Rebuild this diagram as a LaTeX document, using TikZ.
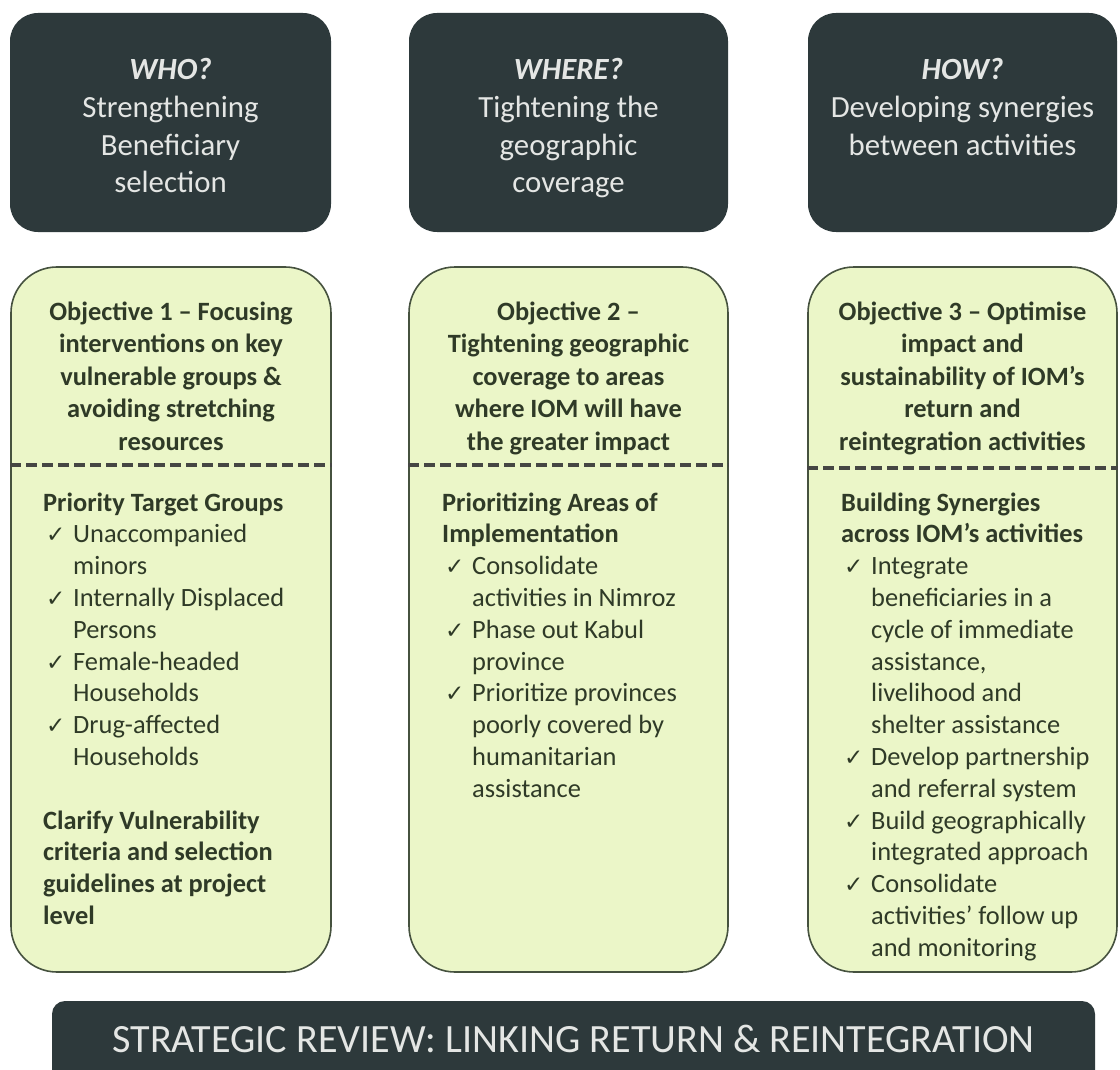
\documentclass[tikz,border=0pt]{standalone}
\usepackage{fontspec}
\setmainfont{Carlito}
\newfontfamily\checkfont{DejaVu Sans}
\definecolor{darkc}{HTML}{2D393B}
\definecolor{greenc}{HTML}{EBF6C8}
\definecolor{borderc}{HTML}{46523F}
\definecolor{dashc}{HTML}{454643}
\definecolor{textc}{HTML}{2F3A27}
\definecolor{lightc}{HTML}{E4E6E4}
\newcommand{\mychk}{\makebox[30pt][l]{\hspace*{3pt}{\checkfont\fontsize{23}{23}\selectfont ✓}}}
\newcommand{\myind}{\makebox[30pt]{}}
\tikzset{
  darkbox/.style={fill=darkc, rounded corners=28pt, inner sep=0pt},
  greenbox/.style={fill=greenc, draw=borderc, line width=1.6pt, rounded corners=46pt, inner sep=0pt},
  sepline/.style={draw=dashc, line width=3.2pt, dash pattern=on 11pt off 5pt},
  toptext/.style={anchor=base, inner sep=0pt, text=lightc, font=\fontsize{30.8}{37.6}\selectfont},
  titletext/.style={anchor=base, inner sep=0pt, text=textc, font=\bfseries\fontsize{26.4}{32.5}\selectfont},
  bodytext/.style={anchor=base west, inner sep=0pt, text=textc, font=\fontsize{26.4}{31.8}\selectfont},
  bartext/.style={anchor=base, inner sep=0pt, text=lightc, font=\fontsize{40.1}{46}\selectfont},
}
\begin{document}
\begin{tikzpicture}[x=1pt,y=-1pt]
\clip (0,0) rectangle (1120,1070);
\fill[white] (0,0) rectangle (1120,1070);

% top dark boxes
\node[darkbox, minimum width=321pt, minimum height=219pt] (t1) at (170.5,122.5) {};
\node[darkbox, minimum width=319pt, minimum height=219pt] (t2) at (568.5,122.5) {};
\node[darkbox, minimum width=309pt, minimum height=219pt] (t3) at (962.5,122.5) {};

\node[toptext] (t1txt) at (170.5,80) {\parbox[t]{300pt}{\centering\textbf{\textit{WHO?}}\\Strengthening\\Beneficiary\\selection}};
\node[toptext] (t2txt) at (568.5,80) {\parbox[t]{300pt}{\centering\textbf{\textit{WHERE?}}\\Tightening the\\geographic\\coverage}};
\node[toptext] (t3txt) at (962.5,80) {\parbox[t]{300pt}{\centering\textbf{\textit{HOW?}}\\Developing synergies\\between activities}};

% green boxes
\node[greenbox, minimum width=320pt, minimum height=705pt] (g1) at (171,619.5) {};
\node[greenbox, minimum width=319pt, minimum height=705pt] (g2) at (568.5,619.5) {};
\node[greenbox, minimum width=309pt, minimum height=705pt] (g3) at (962.5,619.5) {};

\coordinate (d1) at (0,465);
\coordinate (d3) at (0,468);
\draw[sepline] (g1.west |- d1) -- (g1.east |- d1);
\draw[sepline] (g2.west |- d1) -- (g2.east |- d1);
\draw[sepline] (g3.west |- d3) -- (g3.east |- d3);

% titles
\node[titletext] (g1title) at (171,320) {\parbox[t]{310pt}{\centering Objective 1 – Focusing\\interventions on key\\vulnerable groups \&\\avoiding stretching\\resources}};
\node[titletext] (g2title) at (568.5,320) {\parbox[t]{310pt}{\centering Objective 2 –\\Tightening geographic\\coverage to areas\\where IOM will have\\the greater impact}};
\node[titletext] (g3title) at (962.5,320) {\parbox[t]{305pt}{\centering Objective 3 – Optimise\\impact and\\sustainability of IOM’s\\return and\\reintegration activities}};

% bodies
\node[bodytext] (g1body) at (43,511) {\parbox[t]{285pt}{%
\textbf{Priority Target Groups}\\
\mychk Unaccompanied\\
\myind minors\\
\mychk Internally Displaced\\
\myind Persons\\
\mychk Female-headed\\
\myind Households\\
\mychk Drug-affected\\
\myind Households\\[31.8pt]
\textbf{Clarify Vulnerability}\\
\textbf{criteria and selection}\\
\textbf{guidelines at project}\\
\textbf{level}}};

\node[bodytext] (g2body) at (442,511) {\parbox[t]{285pt}{%
\textbf{Prioritizing Areas of}\\
\textbf{Implementation}\\
\mychk Consolidate\\
\myind activities in Nimroz\\
\mychk Phase out Kabul\\
\myind province\\
\mychk Prioritize provinces\\
\myind poorly covered by\\
\myind humanitarian\\
\myind assistance}};

\node[bodytext] (g3body) at (841,511) {\parbox[t]{275pt}{%
\textbf{Building Synergies}\\
\textbf{across IOM’s activities}\\
\mychk Integrate\\
\myind beneficiaries in a\\
\myind cycle of immediate\\
\myind assistance,\\
\myind livelihood and\\
\myind shelter assistance\\
\mychk Develop partnership\\
\myind and referral system\\
\mychk Build geographically\\
\myind integrated approach\\
\mychk Consolidate\\
\myind activities’ follow up\\
\myind and monitoring}};

% bottom bar
\node[darkbox, rounded corners=13pt, minimum width=1043pt, minimum height=100pt] (bar) at (573.5,1051) {};
\node[bartext] (bartxt) at (573.5,1052) {STRATEGIC REVIEW: LINKING RETURN \& REINTEGRATION};
\end{tikzpicture}
\end{document}
